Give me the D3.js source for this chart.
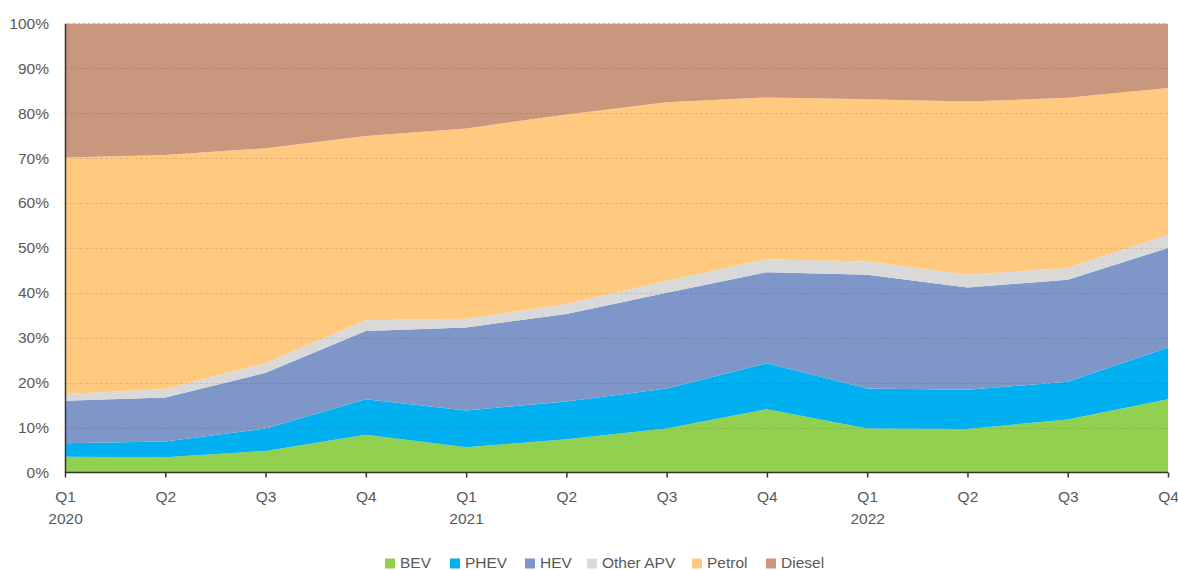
<!DOCTYPE html>
<html>
<head>
<meta charset="utf-8">
<script src="https://cdn.jsdelivr.net/npm/d3@7"></script>
<style>
  html, body { margin: 0; padding: 0; background: #fff; }
  svg { display: block; font-family: "Liberation Sans", Arial, sans-serif; }
</style>
</head>
<body>
<svg id="chart" width="1178" height="570"></svg>
<script>
const quarters = ["Q1", "Q2", "Q3", "Q4", "Q1", "Q2", "Q3", "Q4", "Q1", "Q2", "Q3", "Q4"];
const years = ["2020", "", "", "", "2021", "", "", "", "2022", "", "", ""];
const seriesNames = ["BEV", "PHEV", "HEV", "Other APV", "Petrol", "Diesel"];
const seriesColors = ["#92d050", "#00b0f0", "#7f96c9", "#d9d9d9", "#ffc980", "#c9967e"];

const BEV      = [3.5, 3.4, 4.8, 8.4, 5.6, 7.4, 9.8, 14.1, 9.8, 9.7, 11.8, 16.3];
const PHEV     = [3.0, 3.5, 5.0, 7.9, 8.2, 8.4, 8.9, 10.2, 8.9, 8.7, 8.4, 11.5];
const HEV      = [9.5, 9.8, 12.4, 15.2, 18.5, 19.5, 21.3, 20.3, 25.3, 22.8, 22.7, 22.2];
const OtherAPV = [1.5, 1.9, 2.2, 2.4, 1.9, 2.2, 2.7, 2.9, 3.0, 2.8, 2.6, 2.9];
const Petrol   = [52.6, 52.1, 47.8, 41.0, 42.4, 42.2, 39.7, 36.0, 36.1, 38.6, 37.9, 32.7];
const Diesel   = [29.9, 29.3, 27.8, 25.1, 23.4, 20.3, 17.6, 16.5, 16.9, 17.4, 16.6, 14.4];
const yTicks = [0, 10, 20, 30, 40, 50, 60, 70, 80, 90, 100];

(function () {
const seriesValues = [BEV, PHEV, HEV, OtherAPV, Petrol, Diesel];
const rows = quarters.map((q, i) => {
  const r = { i: i };
  seriesNames.forEach((s, k) => { r[s] = seriesValues[k][i]; });
  return r;
});

const svg = d3.select("#chart");
const mLeft = 65, mRight = 1168, mTop = 23.3, mBottom = 472.5;
const fs = "15.5px";

const x = d3.scaleLinear().domain([0, quarters.length - 1]).range([mLeft, mRight]);
const y = d3.scaleLinear().domain([0, 100]).range([mBottom, mTop]);
const color = d3.scaleOrdinal().domain(seriesNames).range(seriesColors);

const stack = d3.stack().keys(seriesNames).offset(d3.stackOffsetExpand);
const layers = stack(rows);

const area = d3.area()
  .x(d => x(d.data.i))
  .y0(d => y(d[0] * 100))
  .y1(d => y(d[1] * 100));

svg.append("g").selectAll("path")
  .data(layers)
  .join("path")
  .attr("d", area)
  .attr("fill", d => color(d.key));

// gridlines (over areas, dashed)
svg.append("g").selectAll("line")
  .data(yTicks.filter(t => t > 0))
  .join("line")
  .attr("x1", mLeft).attr("x2", mRight)
  .attr("y1", d => Math.round(y(d)) + 0.5).attr("y2", d => Math.round(y(d)) + 0.5)
  .attr("stroke", d => d === 100 ? "rgba(255,255,255,0.6)" : "rgba(90,60,40,0.16)")
  .attr("stroke-width", 1)
  .attr("stroke-dasharray", "3,2");

// y axis
const yAxis = d3.axisLeft(y).tickValues(yTicks).tickFormat(d => d + "%").tickSize(0).tickPadding(16);
const gy = svg.append("g").attr("transform", `translate(${mLeft},0)`).call(yAxis);
gy.select(".domain").attr("stroke", "#333").attr("stroke-width", 1.5);
gy.selectAll("text").attr("fill", "#595959").style("font-size", fs);

// x axis
const xAxis = d3.axisBottom(x).tickValues(d3.range(quarters.length)).tickFormat(i => quarters[i]).tickSize(5).tickPadding(13);
const gx = svg.append("g").attr("transform", `translate(0,${mBottom})`).call(xAxis);
gx.select(".domain").attr("stroke", "#333").attr("stroke-width", 1.5).attr("d", `M${mLeft},0H${mRight}`);
gx.selectAll(".tick line").attr("stroke", "#333").attr("stroke-width", 1.5);
gx.selectAll("text").attr("fill", "#595959").style("font-size", fs);
gx.selectAll(".tick").append("text")
  .attr("y", 40).attr("dy", "0.71em")
  .attr("fill", "#595959").style("font-size", fs)
  .attr("text-anchor", "middle")
  .text(i => years[i]);

// legend
const legendX = [385, 450, 525, 587, 692, 766];
const lg = svg.append("g");
seriesNames.forEach((s, k) => {
  const g = lg.append("g").attr("transform", `translate(${legendX[k]},557)`);
  g.append("rect").attr("width", 10).attr("height", 10).attr("y", 1.5).attr("fill", color(s));
  g.append("text").attr("x", 15).attr("y", 6).attr("dy", "0.35em")
    .attr("fill", "#595959").style("font-size", fs).text(s);
});
})();
</script>
</body>
</html>
